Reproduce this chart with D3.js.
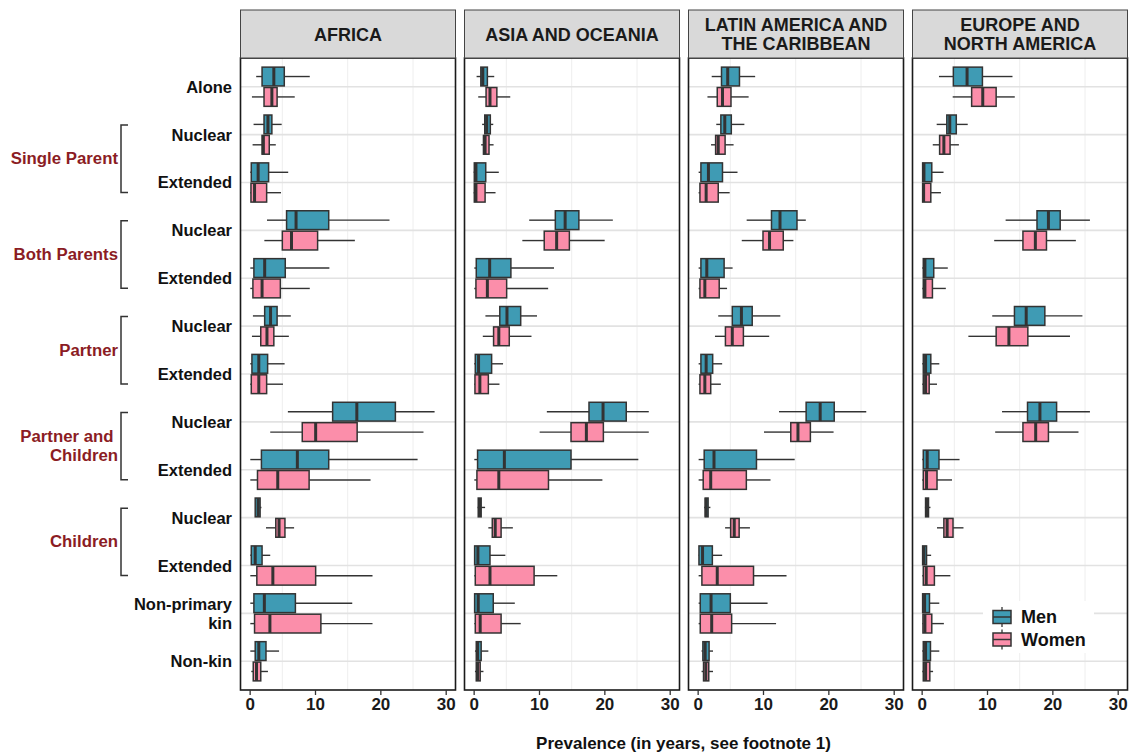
<!DOCTYPE html>
<html><head><meta charset="utf-8">
<script src="https://cdn.jsdelivr.net/npm/d3@7"></script>
<style>
html,body{margin:0;padding:0;background:#fff;}
svg{display:block;font-family:"Liberation Sans",Arial,sans-serif;}
</style></head>
<body><svg id="chart" width="1133" height="755"></svg>
<script>
// ---------- data ----------
const regions = ["AFRICA", "ASIA AND OCEANIA", "LATIN AMERICA AND|THE CARIBBEAN", "EUROPE AND|NORTH AMERICA"];
const categories = ["Alone","SP-Nuclear","SP-Extended","BP-Nuclear","BP-Extended","P-Nuclear","P-Extended","PC-Nuclear","PC-Extended","C-Nuclear","C-Extended","Non-primary kin","Non-kin"];
const categoryLabels = ["Alone","Nuclear","Extended","Nuclear","Extended","Nuclear","Extended","Nuclear","Extended","Nuclear","Extended","Non-primary|kin","Non-kin"];
const groupLabels = ["Single Parent","Both Parents","Partner","Partner and|Children","Children"];
const groupFirst = [1,3,5,7,9];
const xTicks = [0,10,20,30];
const sexes = ["Men","Women"];
const axisTitle = "Prevalence (in years, see footnote 1)";

// [whisker low, Q1, median, Q3, whisker high] per category
const africaMen = [[1.0,1.9,3.7,5.3,9.2],[0.6,2.2,2.8,3.4,4.9],[0.1,0.25,1.3,2.9,5.9],[2.65,5.65,7.1,12.1,21.4],[0.1,0.65,2.3,5.45,12.2],[0.5,2.3,3.2,4.2,6.3],[0.1,0.35,1.4,2.75,5.35],[5.85,12.7,16.4,22.3,28.3],[0.1,1.8,7.3,12.1,25.7],[0.85,0.85,1.3,1.6,1.8],[0.1,0.25,0.85,1.9,3.15],[0.1,0.65,2.25,7.0,15.7],[0.1,0.85,1.4,2.5,4.5]];
const africaWomen = [[0.35,2.2,3.4,4.2,6.9],[0.45,1.9,2.1,3.0,4.0],[0.1,0.2,0.75,2.6,4.8],[2.25,5.0,6.4,10.4,16.1],[0.1,0.5,1.9,4.7,9.2],[0.35,1.7,2.65,3.7,6.0],[0.1,0.25,1.4,2.6,5.1],[3.15,8.05,10.1,16.45,26.6],[0.1,1.2,4.3,9.1,18.5],[2.5,4.0,4.5,5.4,6.8],[0.1,1.1,3.55,10.1,18.8],[0.1,0.75,3.1,10.9,18.8],[0.25,0.55,1.05,1.7,2.8]];
const asiaMen = [[0.45,1.1,1.4,2.1,3.15],[1.3,1.7,2.0,2.55,3.0],[0.0,0.1,0.35,1.85,3.85],[8.5,12.5,14.0,16.1,21.3],[0.1,0.4,2.45,5.7,12.3],[1.8,4.0,5.1,7.2,9.7],[0.1,0.25,0.75,2.75,4.5],[11.2,17.65,19.8,23.35,26.8],[0.1,0.6,4.7,14.9,25.2],[0.6,0.7,0.9,1.15,1.75],[0.1,0.15,0.65,2.5,4.85],[0.1,0.15,0.7,3.0,6.3],[0.2,0.4,0.6,1.15,2.25]];
const asiaWomen = [[0.7,1.9,2.5,3.55,5.6],[1.15,1.5,1.75,2.35,3.05],[0.0,0.1,0.35,1.75,3.35],[7.45,10.8,12.7,14.65,20.05],[0.1,0.35,2.1,5.05,11.4],[1.4,3.05,3.85,5.45,8.85],[0.1,0.2,0.95,2.25,3.95],[10.1,14.9,17.25,19.85,26.8],[0.1,0.5,3.85,11.45,19.7],[2.25,2.85,3.3,4.2,6.0],[0.1,0.25,2.5,9.25,12.8],[0.1,0.25,1.0,4.2,7.2],[0.2,0.4,0.6,1.0,1.5]];
const latinMen = [[2.15,3.65,4.6,6.4,8.8],[2.85,3.55,4.15,5.15,7.15],[0.15,0.5,1.65,3.8,6.1],[7.5,11.3,12.6,15.2,16.55],[0.15,0.5,1.4,4.05,5.35],[3.15,5.3,6.7,8.35,12.65],[0.15,0.5,1.3,2.3,3.75],[12.45,16.6,18.75,20.9,25.8],[0.15,1.0,2.5,9.0,14.85],[1.0,1.15,1.3,1.6,1.95],[0.15,0.2,0.75,2.25,3.75],[0.15,0.4,2.05,5.0,10.7],[0.6,0.8,1.15,1.75,2.35]];
const latinWomen = [[1.5,3.0,3.8,5.1,7.8],[2.05,2.75,3.15,4.2,5.5],[0.15,0.35,1.3,3.15,4.9],[6.75,10.0,11.0,13.1,14.65],[0.15,0.35,1.1,3.3,4.5],[2.65,4.25,5.3,7.0,10.95],[0.15,0.35,1.1,2.0,3.55],[10.15,14.25,15.35,17.25,20.8],[0.15,0.85,2.0,7.45,11.15],[4.2,5.05,5.6,6.35,8.0],[0.15,0.65,3.0,8.55,13.6],[0.15,0.4,2.15,5.2,12.0],[0.6,0.9,1.25,1.7,2.35]];
const europeMen = [[2.65,4.85,6.95,9.3,13.9],[2.3,3.85,4.3,5.3,7.05],[0.1,0.15,0.35,1.55,3.35],[12.85,17.65,19.4,21.2,25.75],[0.1,0.25,0.5,1.85,4.0],[10.8,14.2,16.0,18.85,24.6],[0.1,0.25,0.6,1.4,2.7],[12.3,16.2,18.1,20.65,25.75],[0.1,0.25,0.85,2.65,5.8],[0.5,0.6,0.75,1.05,1.35],[0.1,0.15,0.35,0.75,1.45],[0.1,0.15,0.45,1.2,2.7],[0.1,0.25,0.6,1.35,2.7]];
const europeWomen = [[4.75,7.65,9.35,11.4,14.25],[1.7,2.75,3.4,4.35,5.7],[0.1,0.15,0.3,1.4,2.95],[11.1,15.5,17.4,19.1,23.6],[0.1,0.25,0.5,1.65,3.7],[7.15,11.4,13.35,16.25,22.7],[0.1,0.25,0.6,1.15,2.35],[11.25,15.5,17.45,19.4,24.0],[0.1,0.25,0.75,2.35,4.65],[2.35,3.4,3.9,4.8,6.4],[0.1,0.25,0.7,1.95,4.4],[0.1,0.2,0.5,1.55,3.4],[0.1,0.25,0.6,1.25,1.75]];

const regionData = [[africaMen, africaWomen],[asiaMen, asiaWomen],[latinMen, latinWomen],[europeMen, europeWomen]];

// ---------- layout ----------
const svg = d3.select("#chart");
const colors = {Men:"#3f9bb4", Women:"#fb8eaa"};
const panelTop = 58, panelBottom = 690, panelW = 215, panelStep = 224, firstPanelX = 240.5;
const stripTop = 10;
const groupColor = "#8b1c24";
const edge = "#333333";

const y = d3.scalePoint().domain(categories).range([panelTop, panelBottom]).padding(0.6);
const boxH = 18.8, boxGap = 0.8;

regions.forEach((reg, ri) => {
  const left = firstPanelX + ri * panelStep;
  const x = d3.scaleLinear().domain([-1.4, 31.5]).range([left, left + panelW]);
  const g = svg.append("g");

  g.append("rect").attr("x", left).attr("y", panelTop).attr("width", panelW).attr("height", panelBottom - panelTop).attr("fill", "#fff");
  [5, 15, 25].forEach(v => g.append("line").attr("x1", x(v)).attr("x2", x(v)).attr("y1", panelTop).attr("y2", panelBottom).attr("stroke", "#eeeeee").attr("stroke-width", 1));
  categories.forEach(c => g.append("line").attr("x1", left).attr("x2", left + panelW).attr("y1", y(c)).attr("y2", y(c)).attr("stroke", "#e2e2e2").attr("stroke-width", 1.6));

  if (ri === 3) {
    g.append("rect").attr("x", 983).attr("y", 601).attr("width", 111).attr("height", 52).attr("fill", "#fff");
  }

  sexes.forEach((sx, si) => {
    const data = regionData[ri][si];
    data.forEach((d, ci) => {
      const c = y(categories[ci]);
      const top = si === 0 ? c - boxGap - boxH : c + boxGap;
      const mid = top + boxH / 2;
      const [lo, q1, med, q3, hi] = d;
      g.append("line").attr("x1", x(lo)).attr("x2", x(q1)).attr("y1", mid).attr("y2", mid).attr("stroke", edge).attr("stroke-width", 1.4);
      g.append("line").attr("x1", x(q3)).attr("x2", x(hi)).attr("y1", mid).attr("y2", mid).attr("stroke", edge).attr("stroke-width", 1.4);
      g.append("rect").attr("x", x(q1)).attr("y", top).attr("width", Math.max(0.5, x(q3) - x(q1))).attr("height", boxH)
        .attr("fill", colors[sx]).attr("stroke", edge).attr("stroke-width", 1.5);
      g.append("line").attr("x1", x(med)).attr("x2", x(med)).attr("y1", top).attr("y2", top + boxH).attr("stroke", edge).attr("stroke-width", 3);
    });
  });

  g.append("rect").attr("x", left).attr("y", panelTop).attr("width", panelW).attr("height", panelBottom - panelTop)
    .attr("fill", "none").attr("stroke", "#1a1a1a").attr("stroke-width", 1.6);

  g.append("rect").attr("x", left).attr("y", stripTop).attr("width", panelW).attr("height", panelTop - stripTop)
    .attr("fill", "#d9d9d9").attr("stroke", "#444").attr("stroke-width", 1);
  const lines = reg.split("|");
  const stripMid = (stripTop + panelTop) / 2 + 0.5;
  lines.forEach((ln, li) => {
    g.append("text").attr("x", left + panelW / 2).attr("y", stripMid + (li - (lines.length - 1) / 2) * 19.7)
      .attr("text-anchor", "middle").attr("dominant-baseline", "central")
      .attr("font-size", 18).attr("font-weight", "bold").attr("fill", "#1a1a1a").text(ln);
  });

  const ax = g.append("g").attr("transform", `translate(0,${panelBottom})`)
    .call(d3.axisBottom(x).tickValues(xTicks).tickSize(5).tickPadding(3).tickFormat(d3.format("d")));
  ax.select(".domain").remove();
  ax.selectAll(".tick line").attr("stroke", edge).attr("stroke-width", 1.3);
  ax.selectAll(".tick text").attr("font-size", 17).attr("font-weight", "bold").attr("fill", "#1a1a1a")
    .attr("font-family", "'Liberation Sans',Arial,sans-serif");
});

categories.forEach((c, ci) => {
  const lines = categoryLabels[ci].split("|");
  lines.forEach((ln, li) => {
    svg.append("text").attr("x", 232).attr("y", y(c) + (li - (lines.length - 1) / 2) * 18.5)
      .attr("text-anchor", "end").attr("dominant-baseline", "central")
      .attr("font-size", 16.5).attr("font-weight", "bold").attr("fill", "#111").text(ln);
  });
});

groupLabels.forEach((gl, gi) => {
  const c1 = y(categories[groupFirst[gi]]), c2 = y(categories[groupFirst[gi] + 1]);
  const yTop = c1 - 9.5, yBot = c2 + 10;
  svg.append("path").attr("d", `M128,${yTop}H121V${yBot}H128`).attr("fill", "none").attr("stroke", edge).attr("stroke-width", 1.5);
  const lines = gl.split("|");
  const cm = (c1 + c2) / 2;
  lines.forEach((ln, li) => {
    svg.append("text").attr("x", lines.length > 1 && li === 0 ? 113.5 : 118)
      .attr("y", cm + (li - (lines.length - 1) / 2) * 18.5)
      .attr("text-anchor", "end").attr("dominant-baseline", "central")
      .attr("font-size", 16.8).attr("font-weight", "bold").attr("fill", groupColor).text(ln);
  });
});

svg.append("text").attr("x", 683.5).attr("y", 743).attr("text-anchor", "middle").attr("dominant-baseline", "central")
  .attr("font-size", 17).attr("font-weight", "bold").attr("fill", "#111").text(axisTitle);

const legend = svg.append("g");
sexes.forEach((sx, si) => {
  const cy = 617 + si * 22.5;
  legend.append("line").attr("x1", 1002).attr("x2", 1002).attr("y1", cy - 10).attr("y2", cy + 10).attr("stroke", edge).attr("stroke-width", 1.3);
  legend.append("rect").attr("x", 993).attr("y", cy - 6.5).attr("width", 18).attr("height", 13).attr("fill", colors[sx]).attr("stroke", edge).attr("stroke-width", 1.5);
  legend.append("line").attr("x1", 993).attr("x2", 1011).attr("y1", cy).attr("y2", cy).attr("stroke", edge).attr("stroke-width", 1.5);
  legend.append("text").attr("x", 1021).attr("y", cy).attr("dominant-baseline", "central")
    .attr("font-size", 18).attr("font-weight", "bold").attr("fill", "#111").text(sx);
});
</script>
</body></html>
